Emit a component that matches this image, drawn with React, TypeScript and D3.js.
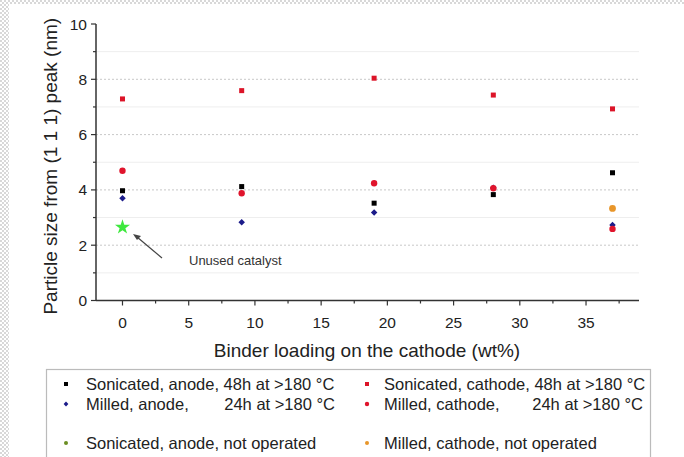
import React from "react";
import * as d3 from "d3";

const W = 684;
const H = 457;
const FONT = "Liberation Sans, Arial, sans-serif";

// binder loading (wt%) of the cathode samples
const binder = [0, 9, 19, 28, 37];
const sonAnode48 = [3.97, 4.12, 3.52, 3.83, 4.62];
const sonCathode48 = [7.29, 7.59, 8.04, 7.43, 6.93];
const milledAnode24 = [3.7, 2.83, 3.18, 4.08, 2.73];
const milledCathode24 = [4.69, 3.88, 4.24, 4.06, 2.59];
const unusedX = [0];
const unusedY = [2.65];
const milledNotOpX = [37];
const milledNotOpY = [3.33];

const xTicks = [0, 5, 10, 15, 20, 25, 30, 35];
const yTicks = [0, 2, 4, 6, 8, 10];

const margin = { left: 96, right: 45, top: 24, bottom: 156.5 };

export default function App() {
  const x = d3.scaleLinear().domain([-2, 39]).range([margin.left, W - margin.right]);
  const y = d3.scaleLinear().domain([0, 10]).range([H - margin.bottom, margin.top]);

  const xMinor = d3.range(-2.5, 39, 2.5).filter((v) => v > -2 && v % 5 !== 0);
  const yMinor = d3.range(1, 10, 2);

  const star = d3.symbol().type(d3.symbolStar).size(70)() || "";

  const x0 = x(-2);
  const x1 = x(39);
  const yBase = y(0);

  const sq = (cx: number, cy: number, fill: string, key: string, s = 5) => (
    <rect key={key} x={cx - s / 2} y={cy - s / 2} width={s} height={s} fill={fill} />
  );
  const dia = (cx: number, cy: number, fill: string, key: string, s = 4.6) => (
    <rect
      key={key}
      x={-s / 2}
      y={-s / 2}
      width={s}
      height={s}
      fill={fill}
      transform={`translate(${cx},${cy}) rotate(45)`}
    />
  );

  return (
    <div style={{ position: "absolute", left: 0, top: 0 }}>
      <svg width={W} height={H} style={{ display: "block", background: "#fff" }}>
        <defs>
          <pattern id="chk" width="4" height="4" patternUnits="userSpaceOnUse">
            <rect width="4" height="4" fill="#fff" />
            <rect width="2" height="2" fill="#d8d8d8" />
            <rect x="2" y="2" width="2" height="2" fill="#d8d8d8" />
          </pattern>
        </defs>
        <rect x={0} y={0} width={9} height={H} fill="url(#chk)" />
        <rect x={0} y={0} width={W} height={4} fill="url(#chk)" />

        {/* gridlines */}
        {yMinor.map((v) => (
          <line key={"gm" + v} x1={x0} x2={x1} y1={y(v)} y2={y(v)} stroke="#eeeeee" strokeWidth={1} />
        ))}
        {yTicks.filter((v) => v > 0 && v < 10).map((v) => (
          <line key={"g" + v} x1={x0} x2={x1} y1={y(v)} y2={y(v)} stroke="#c8c8c8" strokeWidth={1} strokeDasharray="2,2" />
        ))}

        {/* axes */}
        <line x1={x0} x2={x0} y1={y(10)} y2={yBase} stroke="#333" strokeWidth={1.5} />
        <line x1={x0} x2={x1} y1={yBase} y2={yBase} stroke="#333" strokeWidth={1.5} />
        {yTicks.map((v) => (
          <g key={"yt" + v}>
            <line x1={x0 - 5} x2={x0} y1={y(v)} y2={y(v)} stroke="#333" strokeWidth={1.2} />
            <text x={x0 - 9} y={y(v) + 5.5} textAnchor="end" fontSize={15.5} fontFamily={FONT} fill="#222">
              {v}
            </text>
          </g>
        ))}
        {yMinor.map((v) => (
          <line key={"ym" + v} x1={x0 - 3} x2={x0} y1={y(v)} y2={y(v)} stroke="#333" strokeWidth={1.2} />
        ))}
        {xTicks.map((v) => (
          <g key={"xt" + v}>
            <line x1={x(v)} x2={x(v)} y1={yBase} y2={yBase + 5} stroke="#333" strokeWidth={1.2} />
            <text x={x(v)} y={yBase + 27} textAnchor="middle" fontSize={15.5} fontFamily={FONT} fill="#222">
              {v}
            </text>
          </g>
        ))}
        {xMinor.map((v) => (
          <line key={"xm" + v} x1={x(v)} x2={x(v)} y1={yBase} y2={yBase + 3} stroke="#333" strokeWidth={1.2} />
        ))}

        <text
          transform={`translate(57,${(y(10) + yBase) / 2 + 4}) rotate(-90)`}
          textAnchor="middle"
          fontSize={19}
          fontFamily={FONT}
          fill="#222"
        >
          Particle size from (1 1 1) peak (nm)
        </text>
        <text x={367} y={357} textAnchor="middle" fontSize={19} fontFamily={FONT} fill="#222">
          Binder loading on the cathode (wt%)
        </text>

        {/* data */}
        {binder.map((b, i) => sq(x(b), y(sonCathode48[i]), "#dc1428", "sc" + i))}
        {binder.map((b, i) => dia(x(b), y(milledAnode24[i]), "#1c1c8a", "ma" + i))}
        {binder.map((b, i) => (
          <circle key={"mc" + i} cx={x(b)} cy={y(milledCathode24[i])} r={3.2} fill="#e0142c" />
        ))}
        {binder.map((b, i) => sq(x(b), y(sonAnode48[i]), "#000", "sa" + i))}
        {unusedX.map((b, i) => (
          <path key={"un" + i} d={star} transform={`translate(${x(b)},${y(unusedY[i])})`} fill="#3ee83e" />
        ))}
        {milledNotOpX.map((b, i) => (
          <circle key={"mn" + i} cx={x(b)} cy={y(milledNotOpY[i])} r={3.4} fill="#e8962a" />
        ))}

        {/* annotation */}
        <line x1={162} y1={258} x2={137} y2={237} stroke="#444" strokeWidth={1.2} />
        <path d="M133,234 L141,236 L137,240 Z" fill="#444" />
        <text x={189} y={265} fontSize={13} fontFamily={FONT} fill="#333">
          Unused catalyst
        </text>

        {/* legend */}
        <rect x={46.5} y={369.5} width={604} height={100} fill="#fff" stroke="#bbb" strokeWidth={1.2} />
        {sq(66, 384, "#000", "l1", 4)}
        {dia(66, 404, "#1c1c8a", "l2", 3.4)}
        <circle cx={66} cy={443} r={2} fill="#6b8e23" />
        <rect x={365} y={382} width={4} height={4} fill="#dc1428" />
        <circle cx={367} cy={404} r={2.2} fill="#e0142c" />
        <circle cx={367} cy={443} r={2} fill="#e8962a" />
        <g fontSize={16.5} fontFamily={FONT} fill="#222">
          <text x={86} y={390}>Sonicated, anode, 48h at &gt;180 °C</text>
          <text x={86} y={410}>Milled, anode,</text>
          <text x={335} y={410} textAnchor="end">24h at &gt;180 °C</text>
          <text x={86} y={449}>Sonicated, anode, not operated</text>
          <text x={384} y={390}>Sonicated, cathode, 48h at &gt;180 °C</text>
          <text x={384} y={410}>Milled, cathode,</text>
          <text x={643} y={410} textAnchor="end">24h at &gt;180 °C</text>
          <text x={384} y={449}>Milled, cathode, not operated</text>
        </g>
      </svg>
    </div>
  );
}
